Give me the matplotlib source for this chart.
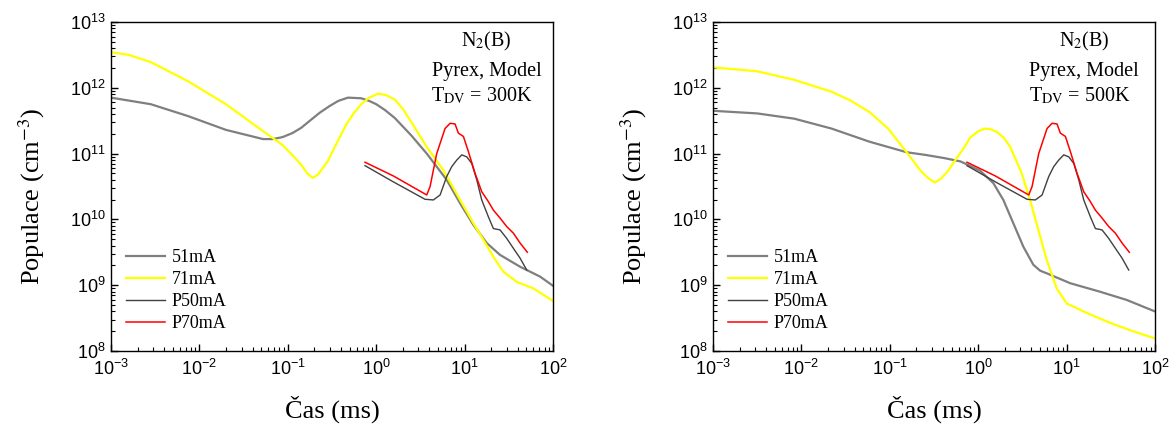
import numpy as np
import matplotlib
matplotlib.use("Agg")
import matplotlib.pyplot as plt

plt.rcParams['font.family'] = ['Liberation Serif', 'DejaVu Serif']
plt.rcParams['mathtext.fontset'] = 'custom'
plt.rcParams['mathtext.rm'] = 'Liberation Sans'
plt.rcParams['mathtext.it'] = 'Liberation Sans:italic'
plt.rcParams['mathtext.bf'] = 'Liberation Sans:bold'

# data: log10(time in ms), log10(population in cm^-3)
# model, T_DV = 300K
m300_51_logt = [-3.0, -2.55, -2.13, -1.70, -1.49, -1.28, -1.17, -1.06, -0.95, -0.85, -0.75,
                -0.64, -0.53, -0.43, -0.32, -0.17, -0.08, 0.0, 0.1, 0.21, 0.4, 0.571, 0.797,
                0.948, 1.099, 1.25, 1.40, 1.627, 1.853, 2.0]
m300_51_logn = [11.85, 11.75, 11.57, 11.36, 11.29, 11.22, 11.22, 11.25, 11.31, 11.39, 11.50,
                11.62, 11.72, 11.80, 11.85, 11.84, 11.80, 11.75, 11.66, 11.54, 11.27, 11.0, 10.60,
                10.245, 9.915, 9.64, 9.46, 9.28, 9.13, 8.99]
m300_71_logt = [-3.0, -2.8, -2.55, -2.13, -1.70, -1.28, -1.06, -0.95, -0.85, -0.78, -0.72,
                -0.66, -0.55, -0.45, -0.34, -0.25, -0.17, -0.08, 0.02, 0.11, 0.21, 0.3, 0.382,
                0.571, 0.759, 0.948, 1.099, 1.212, 1.325, 1.438, 1.589, 1.778, 2.0]
m300_71_logn = [12.54, 12.50, 12.39, 12.10, 11.75, 11.34, 11.13, 10.98, 10.83, 10.70, 10.63,
                10.68, 10.88, 11.15, 11.44, 11.62, 11.75, 11.85, 11.91, 11.89, 11.82, 11.68, 11.51,
                11.10, 10.75, 10.295, 9.94, 9.69, 9.43, 9.205, 9.05, 8.95, 8.76]

# model, T_DV = 500K
m500_51_logt = [-3.0, -2.5, -2.08, -1.66, -1.23, -0.81, -0.6, -0.38, -0.2, 0.02, 0.171,
                0.284, 0.397, 0.51, 0.623, 0.7, 0.775, 1.039, 1.378, 1.68, 2.0]
m500_51_logn = [11.65, 11.61, 11.53, 11.38, 11.18, 11.02, 10.98, 10.93, 10.88, 10.74, 10.55,
                10.295, 9.94, 9.585, 9.31, 9.22, 9.18, 9.03, 8.90, 8.775, 8.60]
m500_71_logt = [-3.0, -2.5, -2.08, -1.66, -1.45, -1.23, -1.02, -0.81, -0.64, -0.56, -0.49,
                -0.42, -0.34, -0.25, -0.17, -0.093, 0.0, 0.077, 0.14, 0.209, 0.29, 0.36, 0.492,
                0.586, 0.680, 0.775, 0.888, 1.001, 1.1, 1.19, 1.415, 1.525, 1.75, 2.0]
m500_71_logn = [12.31, 12.25, 12.12, 11.94, 11.81, 11.63, 11.38, 11.02, 10.72, 10.62, 10.56,
                10.62, 10.74, 10.92, 11.07, 11.24, 11.34, 11.38, 11.37, 11.33, 11.24, 11.105, 10.70,
                10.295, 9.84, 9.38, 8.95, 8.72, 8.66, 8.60, 8.47, 8.41, 8.30, 8.19]

# measurements (same in both panels)
p50_logt = [-0.127, 0.193, 0.552, 0.646, 0.722, 0.797, 0.853, 0.910, 0.967, 1.024, 1.080,
            1.137, 1.193, 1.268, 1.325, 1.40, 1.476, 1.551, 1.627, 1.702]
p50_logn = [10.816, 10.57, 10.305, 10.295, 10.37, 10.65, 10.80, 10.90, 10.98, 10.95, 10.85,
            10.60, 10.295, 10.04, 9.86, 9.84, 9.71, 9.56, 9.41, 9.23]
p70_logt = [-0.127, 0.193, 0.571, 0.609, 0.684, 0.778, 0.835, 0.891, 0.929, 0.986, 1.042,
            1.118, 1.193, 1.268, 1.325, 1.40, 1.476, 1.551, 1.627, 1.709]
p70_logn = [10.868, 10.66, 10.371, 10.50, 11.0, 11.38, 11.46, 11.45, 11.31, 11.26, 11.03,
            10.70, 10.42, 10.27, 10.14, 10.02, 9.89, 9.79, 9.64, 9.50]

labels = ['51mA', '71mA', 'P50mA', 'P70mA']
colors = ['#7f7f7f', '#ffff00', '#404040', '#ff0000']
widths = [1.6, 1.6, 1.0, 1.1]
temps = ['300K', '500K']

panels = [
    [(m300_51_logt, m300_51_logn), (m300_71_logt, m300_71_logn), (p50_logt, p50_logn), (p70_logt, p70_logn)],
    [(m500_51_logt, m500_51_logn), (m500_71_logt, m500_71_logn), (p50_logt, p50_logn), (p70_logt, p70_logn)],
]


def pow10(v, pos):
    return r'$10^{%d}$' % int(round(np.log10(v)))


fig = plt.figure(figsize=(11.76, 4.28), dpi=100)
axes = [fig.add_axes([0.0944, 0.180, 0.3759, 0.7687]),
        fig.add_axes([0.6063, 0.180, 0.3759, 0.7687])]

for j, ax in enumerate(axes):
    for i, (lt, ln) in enumerate(panels[j]):
        ax.plot(10 ** np.array(lt), 10 ** np.array(ln), color=colors[i], lw=widths[i], label=labels[i])
    ax.set_xscale('log')
    ax.set_yscale('log')
    ax.set_xlim(1e-3, 1e2)
    ax.set_ylim(1e8, 1e13)
    ax.xaxis.set_major_locator(matplotlib.ticker.LogLocator(base=10, numticks=10))
    ax.xaxis.set_minor_locator(matplotlib.ticker.LogLocator(base=10, subs=np.arange(2, 10), numticks=20))
    ax.yaxis.set_major_locator(matplotlib.ticker.LogLocator(base=10, numticks=10))
    ax.yaxis.set_minor_locator(matplotlib.ticker.LogLocator(base=10, subs=np.arange(2, 10), numticks=20))
    ax.xaxis.set_major_formatter(matplotlib.ticker.FuncFormatter(pow10))
    ax.yaxis.set_major_formatter(matplotlib.ticker.FuncFormatter(pow10))
    ax.xaxis.set_minor_formatter(matplotlib.ticker.NullFormatter())
    ax.yaxis.set_minor_formatter(matplotlib.ticker.NullFormatter())
    ax.tick_params(which='both', direction='in', top=False, right=False, labelsize=13)
    ax.tick_params(which='major', length=5, width=1)
    ax.tick_params(which='minor', length=3, width=0.8)
    ax.tick_params(axis='x', pad=6)
    ax.tick_params(axis='y', pad=4)
    for sp in ax.spines.values():
        sp.set_linewidth(1.0)
    ax.set_xlabel('Čas (ms)', fontsize=19)
    ax.set_ylabel('Populace (cm$^{-3}$)', fontsize=19, math_fontfamily='stix')
    ax.xaxis.set_label_coords(0.5, -0.135)
    ax.yaxis.set_label_coords(-0.145, 0.47)
    ax.legend(loc='upper left', bbox_to_anchor=(0.033, 0.31), frameon=False, fontsize=13,
              handlelength=2.2, handletextpad=0.35, labelspacing=0.28, borderpad=0, borderaxespad=0)
    tx = 0.85 if j == 0 else 0.84
    ax.text(tx, 0.94, 'N$_2$(B)', transform=ax.transAxes, ha='center', va='center',
            fontsize=14.5, math_fontfamily='stix')
    ax.text(tx, 0.848, 'Pyrex, Model', transform=ax.transAxes, ha='center', va='center', fontsize=14.5)
    ax.text(tx - 0.01, 0.775, 'T$_{\\mathrm{DV}}$ = ' + temps[j], transform=ax.transAxes, ha='center',
            va='center', fontsize=14.5, math_fontfamily='stix')

fig.savefig('out.png', dpi=100)
